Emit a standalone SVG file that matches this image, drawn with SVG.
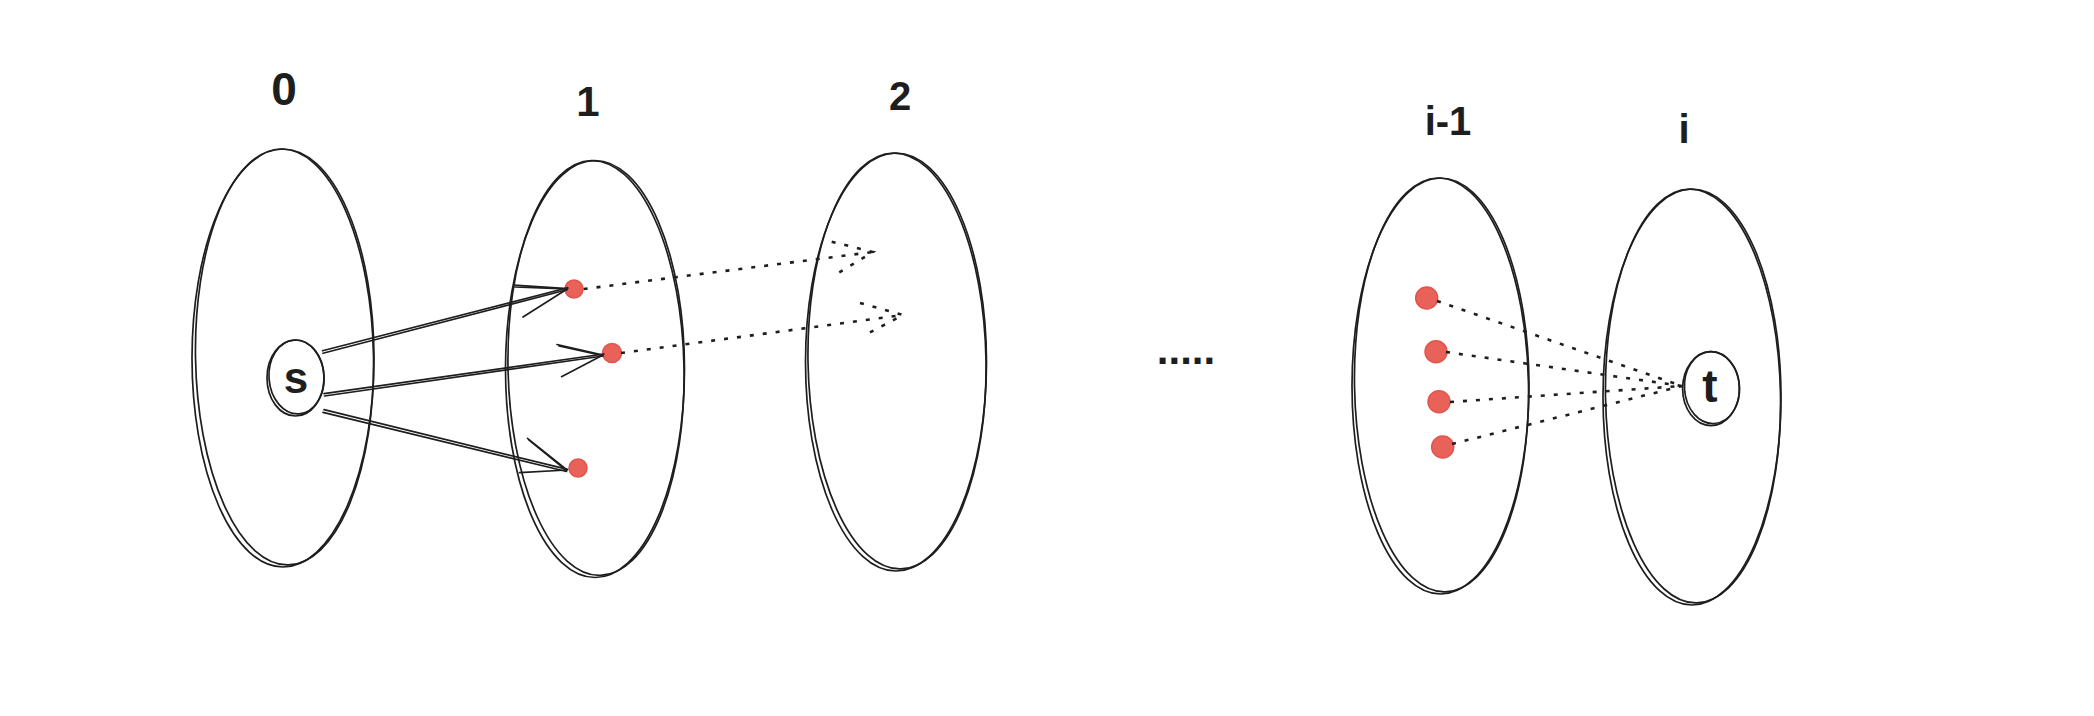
<svg xmlns="http://www.w3.org/2000/svg" width="2094" height="716" viewBox="0 0 2094 716">
<style>
.sk{fill:none;stroke:#1e1e1e;stroke-width:1.7;stroke-linecap:round;stroke-linejoin:round}
.lbl{font-family:"Liberation Sans",Arial,sans-serif;font-weight:700;fill:#1e1e1e;text-anchor:middle}
.dot{fill:#e8625a;stroke:#e0564d;stroke-width:1.5}
.dash{fill:none;stroke:#1e1e1e;stroke-width:2.6;stroke-dasharray:4 9;stroke-linecap:butt}
</style>
<rect width="2094" height="716" fill="#ffffff"/>
<g id="labels">
<text class="lbl" x="284" y="105" font-size="46">0</text>
<text class="lbl" x="588" y="116" font-size="42">1</text>
<text class="lbl" x="900" y="110" font-size="40">2</text>
<text class="lbl" x="1186" y="364" font-size="42">.....</text>
<text class="lbl" x="1448" y="135" font-size="40">i-1</text>
<text class="lbl" x="1684" y="143" font-size="40">i</text>
</g>
<g id="layer0">
<ellipse class="sk" cx="283" cy="358" rx="91" ry="209"/>
<ellipse class="sk" cx="284.5" cy="357" rx="89" ry="208" transform="rotate(-1 284 357)"/>
</g>
<g id="layer1">
<ellipse class="sk" cx="595" cy="369" rx="89.5" ry="208.5"/>
<ellipse class="sk" cx="596" cy="368" rx="88" ry="207.5" transform="rotate(-1.2 596 368)"/>
</g>
<g id="layer2">
<ellipse class="sk" cx="896" cy="362" rx="90.5" ry="209"/>
<ellipse class="sk" cx="897" cy="361" rx="89" ry="208" transform="rotate(-1 897 361)"/>
</g>
<g id="layer-i-1">
<ellipse class="sk" cx="1440.5" cy="386" rx="88.5" ry="208"/>
<ellipse class="sk" cx="1441.5" cy="385" rx="87" ry="207" transform="rotate(-1 1441 385)"/>
</g>
<g id="layer-i">
<ellipse class="sk" cx="1692" cy="397" rx="89" ry="208"/>
<ellipse class="sk" cx="1693" cy="396" rx="87.5" ry="207" transform="rotate(-1 1693 396)"/>
</g>
<g id="node-s">
<ellipse class="sk" cx="295.5" cy="378" rx="28.5" ry="38"/>
<ellipse class="sk" cx="296.5" cy="377" rx="27.5" ry="37" transform="rotate(-4 296 377)"/>
<text class="lbl" x="296" y="393" font-size="44">s</text>
</g>
<g id="node-t">
<ellipse class="sk" cx="1711" cy="388.6" rx="28.4" ry="37"/>
<ellipse class="sk" cx="1712" cy="387.6" rx="27.5" ry="36" transform="rotate(-4 1712 388)"/>
<text class="lbl" x="1710" y="402" font-size="46">t</text>
</g>
<g id="dots">
<circle class="dot" cx="574" cy="289" r="9"/>
<circle class="dot" cx="612" cy="353" r="9.5"/>
<circle class="dot" cx="578" cy="468" r="9"/>
<circle class="dot" cx="1426.7" cy="298" r="11"/>
<circle class="dot" cx="1436" cy="351.7" r="11"/>
<circle class="dot" cx="1439" cy="401.7" r="11"/>
<circle class="dot" cx="1442.7" cy="447" r="11"/>
</g>
<g id="connectors">
<path class="sk" d="M322.5 350.7 L567.6 287.7 M323 353.2 L567 289.7"/>
<path class="sk" d="M567.6 288.7 L523 317 M567.6 288.7 L514 285 M566 289 L515 287"/>
<path class="sk" d="M324 393.6 L604 354 M324.5 396 L603 356"/>
<path class="sk" d="M603 355 L557 344.5 M603 355 L561.5 376.7 M602 355.5 L559 346"/>
<path class="sk" d="M324 409.6 L567.6 469.4 M323 412.4 L566.5 471.5"/>
<path class="sk" d="M567 470 L527.5 438.4 M567 470 L519.5 472.6 M566 470 L529 440"/>
<path class="dash" d="M583.6 289 L873 252"/>
<path class="dash" d="M831.7 241.7 L873 252 L835 275"/>
<path class="dash" d="M621 353 L903 315"/>
<path class="dash" d="M860 303 L903 315 L865 335"/>
<path class="dash" d="M1437 301 L1682 386"/>
<path class="dash" d="M1446 352 L1682 386"/>
<path class="dash" d="M1450 402 L1682 386"/>
<path class="dash" d="M1452 444 L1682 386"/>
</g>
</svg>
